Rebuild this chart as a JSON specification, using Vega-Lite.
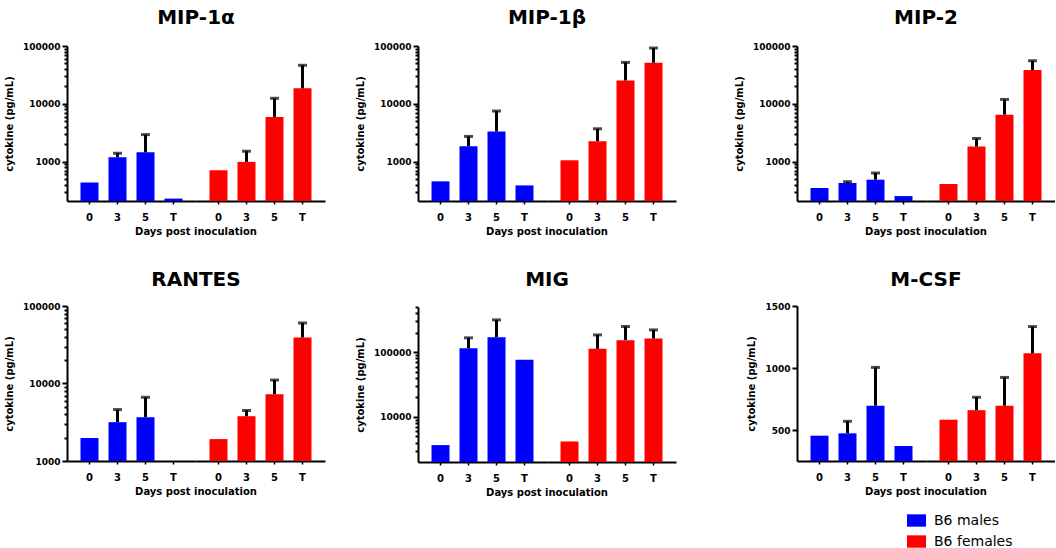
{
  "$schema": "https://vega.github.io/schema/vega-lite/v6.json",
  "padding": {"left": 4, "top": 8, "right": 0, "bottom": 0},
  "background": "white",
  "config": {
    "font": "DejaVu Sans",
    "view": {"stroke": null},
    "title": {"fontSize": 20, "font": "DejaVu Sans", "fontWeight": "bold", "color": "black", "offset": 14, "anchor": "middle", "frame": "group", "dx": 129},
    "header": {"titleFont": "DejaVu Sans", "titleFontSize": 10, "titleFontWeight": "bold", "titleColor": "black", "titlePadding": -5},
    "axis": {"domainColor": "black", "domainWidth": 2, "tickColor": "black", "tickWidth": 2, "labelFont": "DejaVu Sans", "labelFontWeight": "bold", "labelFontSize": 9, "labelColor": "black", "titleFont": "DejaVu Sans", "titleFontWeight": "bold", "titleFontSize": 10, "titleColor": "black", "grid": false},
    "axisX": {"ticks": true, "tickSize": 3, "tickWidth": 1.5, "labelPadding": 8, "labelAngle": 0, "labelFontSize": 10},
    "axisY": {"tickSize": 5, "labelPadding": 2, "titlePadding": 8},
    "legend": {"orient": "none", "legendX": 840, "legendY": 465, "title": null, "direction": "vertical", "symbolType": "M-1,-0.65H1V0.65H-1Z", "symbolSize": 361, "symbolStrokeWidth": 0, "symbolOpacity": 1, "labelFontSize": 14, "labelFont": "DejaVu Sans", "labelColor": "black", "labelOffset": 8, "rowPadding": 4, "padding": 0}
  },
  "datasets": {
    "cyto": [
      {"cytokine": "MIP-1α", "sex": "B6 males", "day": "0", "mean": 434, "upper": null},
      {"cytokine": "MIP-1α", "sex": "B6 males", "day": "3", "mean": 1189, "upper": 1394},
      {"cytokine": "MIP-1α", "sex": "B6 males", "day": "5", "mean": 1450, "upper": 2930},
      {"cytokine": "MIP-1α", "sex": "B6 males", "day": "T", "mean": 229, "upper": null},
      {"cytokine": "MIP-1α", "sex": "B6 females", "day": "0", "mean": 708, "upper": null},
      {"cytokine": "MIP-1α", "sex": "B6 females", "day": "3", "mean": 990, "upper": 1510},
      {"cytokine": "MIP-1α", "sex": "B6 females", "day": "5", "mean": 5916, "upper": 12450},
      {"cytokine": "MIP-1α", "sex": "B6 females", "day": "T", "mean": 18530, "upper": 46400},
      {"cytokine": "MIP-1β", "sex": "B6 males", "day": "0", "mean": 455, "upper": null},
      {"cytokine": "MIP-1β", "sex": "B6 males", "day": "3", "mean": 1848, "upper": 2724},
      {"cytokine": "MIP-1β", "sex": "B6 males", "day": "5", "mean": 3327, "upper": 7500},
      {"cytokine": "MIP-1β", "sex": "B6 males", "day": "T", "mean": 387, "upper": null},
      {"cytokine": "MIP-1β", "sex": "B6 females", "day": "0", "mean": 1054, "upper": null},
      {"cytokine": "MIP-1β", "sex": "B6 females", "day": "3", "mean": 2258, "upper": 3697},
      {"cytokine": "MIP-1β", "sex": "B6 females", "day": "5", "mean": 25300, "upper": 52000},
      {"cytokine": "MIP-1β", "sex": "B6 females", "day": "T", "mean": 51300, "upper": 92300},
      {"cytokine": "MIP-2", "sex": "B6 males", "day": "0", "mean": 349, "upper": null},
      {"cytokine": "MIP-2", "sex": "B6 males", "day": "3", "mean": 426, "upper": 449},
      {"cytokine": "MIP-2", "sex": "B6 males", "day": "5", "mean": 486, "upper": 635},
      {"cytokine": "MIP-2", "sex": "B6 males", "day": "T", "mean": 253, "upper": null},
      {"cytokine": "MIP-2", "sex": "B6 females", "day": "0", "mean": 409, "upper": null},
      {"cytokine": "MIP-2", "sex": "B6 females", "day": "3", "mean": 1824, "upper": 2513},
      {"cytokine": "MIP-2", "sex": "B6 females", "day": "5", "mean": 6490, "upper": 11900},
      {"cytokine": "MIP-2", "sex": "B6 females", "day": "T", "mean": 38300, "upper": 55600},
      {"cytokine": "RANTES", "sex": "B6 males", "day": "0", "mean": 1974, "upper": null},
      {"cytokine": "RANTES", "sex": "B6 males", "day": "3", "mean": 3170, "upper": 4610},
      {"cytokine": "RANTES", "sex": "B6 males", "day": "5", "mean": 3670, "upper": 6640},
      {"cytokine": "RANTES", "sex": "B6 males", "day": "T", "mean": null, "upper": null},
      {"cytokine": "RANTES", "sex": "B6 females", "day": "0", "mean": 1918, "upper": null},
      {"cytokine": "RANTES", "sex": "B6 females", "day": "3", "mean": 3786, "upper": 4480},
      {"cytokine": "RANTES", "sex": "B6 females", "day": "5", "mean": 7260, "upper": 11090},
      {"cytokine": "RANTES", "sex": "B6 females", "day": "T", "mean": 39200, "upper": 60400},
      {"cytokine": "MIG", "sex": "B6 males", "day": "0", "mean": 3650, "upper": null},
      {"cytokine": "MIG", "sex": "B6 males", "day": "3", "mean": 115000, "upper": 166700},
      {"cytokine": "MIG", "sex": "B6 males", "day": "5", "mean": 170700, "upper": 316000},
      {"cytokine": "MIG", "sex": "B6 males", "day": "T", "mean": 76100, "upper": null},
      {"cytokine": "MIG", "sex": "B6 females", "day": "0", "mean": 4160, "upper": null},
      {"cytokine": "MIG", "sex": "B6 females", "day": "3", "mean": 112600, "upper": 185000},
      {"cytokine": "MIG", "sex": "B6 females", "day": "5", "mean": 153500, "upper": 249500},
      {"cytokine": "MIG", "sex": "B6 females", "day": "T", "mean": 162600, "upper": 221000},
      {"cytokine": "M-CSF", "sex": "B6 males", "day": "0", "mean": 454, "upper": null},
      {"cytokine": "M-CSF", "sex": "B6 males", "day": "3", "mean": 473, "upper": 570},
      {"cytokine": "M-CSF", "sex": "B6 males", "day": "5", "mean": 696, "upper": 1005},
      {"cytokine": "M-CSF", "sex": "B6 males", "day": "T", "mean": 371, "upper": null},
      {"cytokine": "M-CSF", "sex": "B6 females", "day": "0", "mean": 583, "upper": null},
      {"cytokine": "M-CSF", "sex": "B6 females", "day": "3", "mean": 660, "upper": 764},
      {"cytokine": "M-CSF", "sex": "B6 females", "day": "5", "mean": 696, "upper": 924},
      {"cytokine": "M-CSF", "sex": "B6 females", "day": "T", "mean": 1118, "upper": 1334}
    ]
  },
  "data": {"name": "cyto"},
  "spacing": 58,
  "hconcat": [
    {
      "spacing": 30,
      "hconcat": [
        {
          "spacing": 33,
          "vconcat": [
            {
              "title": "MIP-1α",
              "transform": [{"filter": "datum.cytokine === 'MIP-1α'"}],
              "facet": {"column": {"field": "sex", "type": "nominal", "sort": ["B6 males", "B6 females"], "title": "Days post inoculation", "header": {"labels": false, "titleOrient": "bottom"}}},
              "spacing": 0,
              "spec": {
                "width": 129, "height": 155,
                "layer": [
                  {"mark": {"type": "bar"}, "encoding": {
                    "x": {"field": "day", "type": "nominal", "scale": {"domain": ["0", "3", "5", "T"], "paddingInner": 0.357, "paddingOuter": 0.482}, "title": null},
                    "y": {"field": "mean", "type": "quantitative", "scale": {"type": "log", "domain": [208, 100000], "nice": false}, "axis": {"values": [300, 400, 500, 600, 700, 800, 900, 1000, 2000, 3000, 4000, 5000, 6000, 7000, 8000, 9000, 10000, 20000, 30000, 40000, 50000, 60000, 70000, 80000, 90000, 100000], "labelExpr": "indexof([1000, 10000, 100000], datum.value) >= 0 ? format(datum.value, 'd') : ''", "tickSize": {"condition": {"test": "indexof([1000, 10000, 100000], datum.value) >= 0", "value": 5}, "value": 3}, "title": "cytokine (pg/mL)"}},
                    "y2": {"datum": 208},
                    "color": {"field": "sex", "type": "nominal", "scale": {"domain": ["B6 males", "B6 females"], "range": ["#0000FF", "#FF0000"]}}}},
                  {"transform": [{"filter": "datum.upper != null"}], "mark": {"type": "rule", "strokeWidth": 3, "color": "black"}, "encoding": {
                    "x": {"field": "day", "type": "nominal"},
                    "y": {"field": "mean", "type": "quantitative"},
                    "y2": {"field": "upper"}}},
                  {"transform": [{"filter": "datum.upper != null"}], "mark": {"type": "tick", "thickness": 3, "size": 9, "color": "black"}, "encoding": {
                    "x": {"field": "day", "type": "nominal"},
                    "y": {"field": "upper", "type": "quantitative"}}}
                ]
              }
            },
            {
              "title": {"text": "RANTES", "offset": 12},
              "transform": [{"filter": "datum.cytokine === 'RANTES'"}],
              "facet": {"column": {"field": "sex", "type": "nominal", "sort": ["B6 males", "B6 females"], "title": "Days post inoculation", "header": {"labels": false, "titleOrient": "bottom"}}},
              "spacing": 0,
              "spec": {
                "width": 129, "height": 155,
                "layer": [
                  {"mark": {"type": "bar"}, "encoding": {
                    "x": {"field": "day", "type": "nominal", "scale": {"domain": ["0", "3", "5", "T"], "paddingInner": 0.357, "paddingOuter": 0.482}, "title": null},
                    "y": {"field": "mean", "type": "quantitative", "scale": {"type": "log", "domain": [1000, 100000], "nice": false}, "axis": {"values": [1000, 2000, 3000, 4000, 5000, 6000, 7000, 8000, 9000, 10000, 20000, 30000, 40000, 50000, 60000, 70000, 80000, 90000, 100000], "labelExpr": "indexof([1000, 10000, 100000], datum.value) >= 0 ? format(datum.value, 'd') : ''", "tickSize": {"condition": {"test": "indexof([1000, 10000, 100000], datum.value) >= 0", "value": 5}, "value": 3}, "title": "cytokine (pg/mL)"}},
                    "y2": {"datum": 1000},
                    "color": {"field": "sex", "type": "nominal", "scale": {"domain": ["B6 males", "B6 females"], "range": ["#0000FF", "#FF0000"]}}}},
                  {"transform": [{"filter": "datum.upper != null"}], "mark": {"type": "rule", "strokeWidth": 3, "color": "black"}, "encoding": {
                    "x": {"field": "day", "type": "nominal"},
                    "y": {"field": "mean", "type": "quantitative"},
                    "y2": {"field": "upper"}}},
                  {"transform": [{"filter": "datum.upper != null"}], "mark": {"type": "tick", "thickness": 3, "size": 9, "color": "black"}, "encoding": {
                    "x": {"field": "day", "type": "nominal"},
                    "y": {"field": "upper", "type": "quantitative"}}}
                ]
              }
            }
          ]
        },
        {
          "spacing": 33,
          "vconcat": [
            {
              "title": "MIP-1β",
              "transform": [{"filter": "datum.cytokine === 'MIP-1β'"}],
              "facet": {"column": {"field": "sex", "type": "nominal", "sort": ["B6 males", "B6 females"], "title": "Days post inoculation", "header": {"labels": false, "titleOrient": "bottom"}}},
              "spacing": 0,
              "spec": {
                "width": 129, "height": 155,
                "layer": [
                  {"mark": {"type": "bar"}, "encoding": {
                    "x": {"field": "day", "type": "nominal", "scale": {"domain": ["0", "3", "5", "T"], "paddingInner": 0.357, "paddingOuter": 0.482}, "title": null},
                    "y": {"field": "mean", "type": "quantitative", "scale": {"type": "log", "domain": [208, 100000], "nice": false}, "axis": {"values": [300, 400, 500, 600, 700, 800, 900, 1000, 2000, 3000, 4000, 5000, 6000, 7000, 8000, 9000, 10000, 20000, 30000, 40000, 50000, 60000, 70000, 80000, 90000, 100000], "labelExpr": "indexof([1000, 10000, 100000], datum.value) >= 0 ? format(datum.value, 'd') : ''", "tickSize": {"condition": {"test": "indexof([1000, 10000, 100000], datum.value) >= 0", "value": 5}, "value": 3}, "title": "cytokine (pg/mL)"}},
                    "y2": {"datum": 208},
                    "color": {"field": "sex", "type": "nominal", "scale": {"domain": ["B6 males", "B6 females"], "range": ["#0000FF", "#FF0000"]}}}},
                  {"transform": [{"filter": "datum.upper != null"}], "mark": {"type": "rule", "strokeWidth": 3, "color": "black"}, "encoding": {
                    "x": {"field": "day", "type": "nominal"},
                    "y": {"field": "mean", "type": "quantitative"},
                    "y2": {"field": "upper"}}},
                  {"transform": [{"filter": "datum.upper != null"}], "mark": {"type": "tick", "thickness": 3, "size": 9, "color": "black"}, "encoding": {
                    "x": {"field": "day", "type": "nominal"},
                    "y": {"field": "upper", "type": "quantitative"}}}
                ]
              }
            },
            {
              "title": {"text": "MIG", "offset": 16},
              "transform": [{"filter": "datum.cytokine === 'MIG'"}],
              "facet": {"column": {"field": "sex", "type": "nominal", "sort": ["B6 males", "B6 females"], "title": "Days post inoculation", "header": {"labels": false, "titleOrient": "bottom"}}},
              "spacing": 0,
              "spec": {
                "width": 129, "height": 155,
                "layer": [
                  {"mark": {"type": "bar"}, "encoding": {
                    "x": {"field": "day", "type": "nominal", "scale": {"domain": ["0", "3", "5", "T"], "paddingInner": 0.357, "paddingOuter": 0.482}, "title": null},
                    "y": {"field": "mean", "type": "quantitative", "scale": {"type": "log", "domain": [2000, 500000], "nice": false}, "axis": {"values": [3000, 4000, 5000, 6000, 7000, 8000, 9000, 10000, 20000, 30000, 40000, 50000, 60000, 70000, 80000, 90000, 100000, 200000, 300000, 400000, 500000], "labelExpr": "indexof([10000, 100000], datum.value) >= 0 ? format(datum.value, 'd') : ''", "tickSize": {"condition": {"test": "indexof([10000, 100000], datum.value) >= 0", "value": 5}, "value": 3}, "title": "cytokine (pg/mL)"}},
                    "y2": {"datum": 2000},
                    "color": {"field": "sex", "type": "nominal", "scale": {"domain": ["B6 males", "B6 females"], "range": ["#0000FF", "#FF0000"]}}}},
                  {"transform": [{"filter": "datum.upper != null"}], "mark": {"type": "rule", "strokeWidth": 3, "color": "black"}, "encoding": {
                    "x": {"field": "day", "type": "nominal"},
                    "y": {"field": "mean", "type": "quantitative"},
                    "y2": {"field": "upper"}}},
                  {"transform": [{"filter": "datum.upper != null"}], "mark": {"type": "tick", "thickness": 3, "size": 9, "color": "black"}, "encoding": {
                    "x": {"field": "day", "type": "nominal"},
                    "y": {"field": "upper", "type": "quantitative"}}}
                ]
              }
            }
          ]
        }
      ]
    },
    {
      "spacing": 33,
      "vconcat": [
        {
          "title": "MIP-2",
          "transform": [{"filter": "datum.cytokine === 'MIP-2'"}],
          "facet": {"column": {"field": "sex", "type": "nominal", "sort": ["B6 males", "B6 females"], "title": "Days post inoculation", "header": {"labels": false, "titleOrient": "bottom"}}},
          "spacing": 0,
          "spec": {
            "width": 129, "height": 155,
            "layer": [
              {"mark": {"type": "bar"}, "encoding": {
                "x": {"field": "day", "type": "nominal", "scale": {"domain": ["0", "3", "5", "T"], "paddingInner": 0.357, "paddingOuter": 0.482}, "title": null},
                "y": {"field": "mean", "type": "quantitative", "scale": {"type": "log", "domain": [208, 100000], "nice": false}, "axis": {"values": [300, 400, 500, 600, 700, 800, 900, 1000, 2000, 3000, 4000, 5000, 6000, 7000, 8000, 9000, 10000, 20000, 30000, 40000, 50000, 60000, 70000, 80000, 90000, 100000], "labelExpr": "indexof([1000, 10000, 100000], datum.value) >= 0 ? format(datum.value, 'd') : ''", "tickSize": {"condition": {"test": "indexof([1000, 10000, 100000], datum.value) >= 0", "value": 5}, "value": 3}, "title": "cytokine (pg/mL)"}},
                "y2": {"datum": 208},
                "color": {"field": "sex", "type": "nominal", "scale": {"domain": ["B6 males", "B6 females"], "range": ["#0000FF", "#FF0000"]}}}},
              {"transform": [{"filter": "datum.upper != null"}], "mark": {"type": "rule", "strokeWidth": 3, "color": "black"}, "encoding": {
                "x": {"field": "day", "type": "nominal"},
                "y": {"field": "mean", "type": "quantitative"},
                "y2": {"field": "upper"}}},
              {"transform": [{"filter": "datum.upper != null"}], "mark": {"type": "tick", "thickness": 3, "size": 9, "color": "black"}, "encoding": {
                "x": {"field": "day", "type": "nominal"},
                "y": {"field": "upper", "type": "quantitative"}}}
            ]
          }
        },
        {
          "title": {"text": "M-CSF", "offset": 12},
          "transform": [{"filter": "datum.cytokine === 'M-CSF'"}],
          "facet": {"column": {"field": "sex", "type": "nominal", "sort": ["B6 males", "B6 females"], "title": "Days post inoculation", "header": {"labels": false, "titleOrient": "bottom"}}},
          "spacing": 0,
          "spec": {
            "width": 129, "height": 155,
            "layer": [
              {"mark": {"type": "bar"}, "encoding": {
                "x": {"field": "day", "type": "nominal", "scale": {"domain": ["0", "3", "5", "T"], "paddingInner": 0.357, "paddingOuter": 0.482}, "title": null},
                "y": {"field": "mean", "type": "quantitative", "scale": {"type": "linear", "domain": [250, 1500], "nice": false, "zero": false}, "axis": {"values": [500, 1000, 1500], "format": "d", "title": "cytokine (pg/mL)"}},
                "y2": {"datum": 250},
                "color": {"field": "sex", "type": "nominal", "scale": {"domain": ["B6 males", "B6 females"], "range": ["#0000FF", "#FF0000"]}}}},
              {"transform": [{"filter": "datum.upper != null"}], "mark": {"type": "rule", "strokeWidth": 3, "color": "black"}, "encoding": {
                "x": {"field": "day", "type": "nominal"},
                "y": {"field": "mean", "type": "quantitative"},
                "y2": {"field": "upper"}}},
              {"transform": [{"filter": "datum.upper != null"}], "mark": {"type": "tick", "thickness": 3, "size": 9, "color": "black"}, "encoding": {
                "x": {"field": "day", "type": "nominal"},
                "y": {"field": "upper", "type": "quantitative"}}}
            ]
          }
        }
      ]
    }
  ]
}
